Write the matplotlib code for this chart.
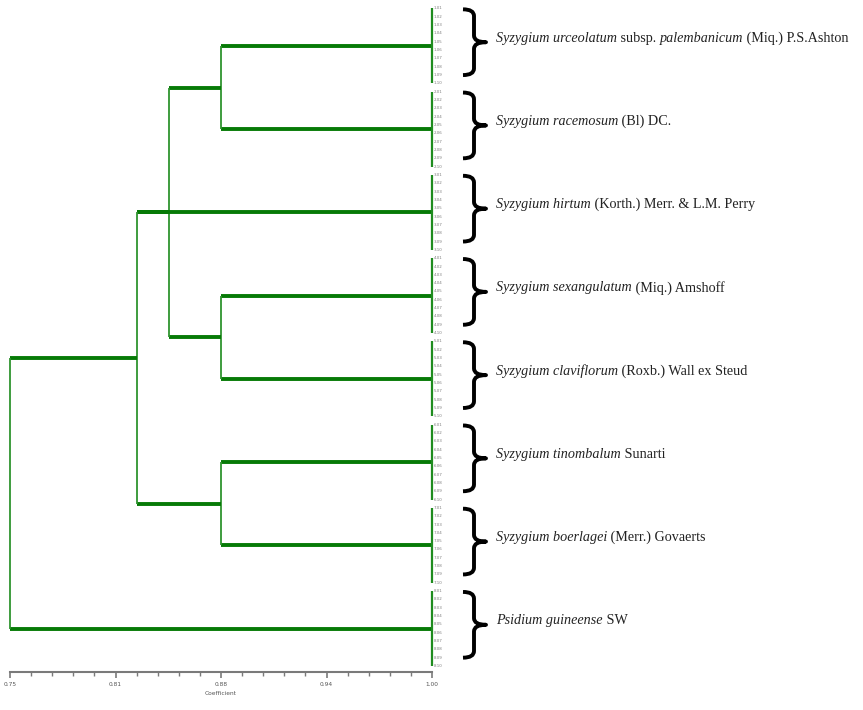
import matplotlib
matplotlib.use("Agg")
import matplotlib.pyplot as plt
from matplotlib.path import Path
from matplotlib.patches import PathPatch
from matplotlib.ticker import FixedLocator, FixedFormatter, MultipleLocator

# ---------------------------------------------------------------- data
# Species groups (top to bottom), each label split into italic / roman runs
species_labels = [
    [("Syzygium urceolatum", True), (" subsp. ", False), ("palembanicum", True),
     (" (Miq.) P.S.Ashton", False)],
    [("Syzygium racemosum", True), (" (Bl) DC.", False)],
    [("Syzygium hirtum", True), (" (Korth.) Merr. & L.M. Perry", False)],
    [("Syzygium sexangulatum", True), (" (Miq.) Amshoff", False)],
    [("Syzygium claviflorum", True), (" (Roxb.) Wall ex Steud", False)],
    [("Syzygium tinombalum", True), (" Sunarti", False)],
    [("Syzygium boerlagei", True), (" (Merr.) Govaerts", False)],
    [("Psidium guineense", True), (" SW", False)],
]
members_per_group = [10, 10, 10, 10, 10, 10, 10, 10]
group_similarity = [1.00, 1.00, 1.00, 1.00, 1.00, 1.00, 1.00, 1.00]

# Agglomeration steps: children (group ids 0-7, new nodes numbered from 8) and coefficient
merge_children = [[0, 1], [3, 4], [5, 6], [8, 9], [11, 2, 10], [12, 7]]
merge_coefficient = [0.875, 0.875, 0.875, 0.844, 0.825, 0.75]

tick_values = [0.75, 0.8125, 0.875, 0.9375, 1.00]
tick_labels = ["0.75", "0.81", "0.88", "0.94", "1.00"]
axis_title = "Coefficient"

# ---------------------------------------------------------------- layout
W, H = 863, 710
fig = plt.figure(figsize=(W / 100, H / 100), dpi=100)
fig.patch.set_facecolor("white")

ax_bottom_px, ax_top_px = 672, 5
ax = fig.add_axes([10 / W, (H - ax_bottom_px) / H, 422 / W, (ax_bottom_px - ax_top_px) / H])
n_leaves = sum(members_per_group)
ax.set_xlim(0.75, 1.00)
ax.set_ylim(n_leaves - 1 + 0.72, -0.42)

H_GREEN = "#067a06"
V_GREEN = "#2f942f"

# leaf positions
leaf_y = []
start = 0
for n in members_per_group:
    leaf_y.append(list(range(start, start + n)))
    start += n

node_x = list(group_similarity)
node_y = []
node_span = []
for ys in leaf_y:
    node_y.append((ys[0] + ys[-1]) / 2)
    node_span.append((ys[0], ys[-1]))

# group-level joins (individuals identical within a group)
for gi, (y0, y1) in enumerate(node_span):
    ax.plot([node_x[gi], node_x[gi]], [y0, y1], color="#1f8c1f", lw=1.6,
            solid_capstyle="butt", clip_on=False, zorder=3)

for children, coef in zip(merge_children, merge_coefficient):
    cys = [node_y[c] for c in children]
    for c in children:
        ax.plot([node_x[c], coef], [node_y[c], node_y[c]], color=H_GREEN, lw=2.8,
                solid_capstyle="butt", clip_on=False, zorder=2)
    ax.plot([coef, coef], [min(cys), max(cys)], color=V_GREEN, lw=1.3,
            solid_capstyle="butt", clip_on=False, zorder=2)
    node_x.append(coef)
    node_y.append((min(cys) + max(cys)) / 2)

# tiny accession labels next to every leaf
for gi, ys in enumerate(leaf_y):
    for k, y in enumerate(ys):
        ax.text(1.0012, y, f"{gi + 1}.{k + 1:02d}", fontsize=2.9, color="#7d7d7d",
                ha="left", va="center", clip_on=False, family="DejaVu Sans")

# axis styling
for side in ("top", "right", "left"):
    ax.spines[side].set_visible(False)
ax.spines["bottom"].set_color("#7a7a7a")
ax.spines["bottom"].set_linewidth(1.5)
ax.yaxis.set_visible(False)
ax.xaxis.set_major_locator(FixedLocator(tick_values))
ax.xaxis.set_major_formatter(FixedFormatter(tick_labels))
ax.xaxis.set_minor_locator(MultipleLocator(0.0125))
ax.tick_params(axis="x", which="major", length=4, width=1.2, color="#7a7a7a",
               labelsize=4.2, labelcolor="#555555", pad=3)
ax.tick_params(axis="x", which="minor", length=3, width=1.0, color="#7a7a7a")
ax.set_xlabel(axis_title, fontsize=4.2, color="#555555", labelpad=3)

# ---------------------------------------------------------------- braces and names
axr = fig.add_axes([455 / W, (H - ax_bottom_px) / H, 408 / W, (ax_bottom_px - ax_top_px) / H],
                   sharey=ax)
axr.set_xlim(455, 863)
axr.axis("off")

x_hook, x_stem, x_tip = 463, 474, 486
ry = 0.8
for gi, (y0, y1) in enumerate(node_span):
    top, bot = y0 + 0.1, y1 - 1.0
    mid = (top + bot) / 2
    verts = [
        (x_hook, top), (x_stem, top), (x_stem, top + ry),
        (x_stem, mid - ry), (x_stem, mid), (x_tip, mid),
        (x_stem, mid), (x_stem, mid + ry),
        (x_stem, bot - ry), (x_stem, bot), (x_hook, bot),
    ]
    codes = [Path.MOVETO, Path.CURVE3, Path.CURVE3,
             Path.LINETO, Path.CURVE3, Path.CURVE3,
             Path.CURVE3, Path.CURVE3,
             Path.LINETO, Path.CURVE3, Path.CURVE3]
    axr.add_patch(PathPatch(Path(verts, codes), facecolor="none", edgecolor="black",
                            lw=2.8, capstyle="butt", joinstyle="round"))

    prev = None
    for text, italic in species_labels[gi]:
        kw = dict(fontsize=10.2, family="Liberation Serif", color="#222222",
                  style="italic" if italic else "normal", va="center", ha="left")
        if prev is None:
            prev = axr.text(496, mid - 0.5, text, **kw)
        else:
            prev = axr.annotate(text, xy=(1, 0.5), xycoords=prev, **kw)

fig.savefig("out.png", dpi=100, facecolor="white")
